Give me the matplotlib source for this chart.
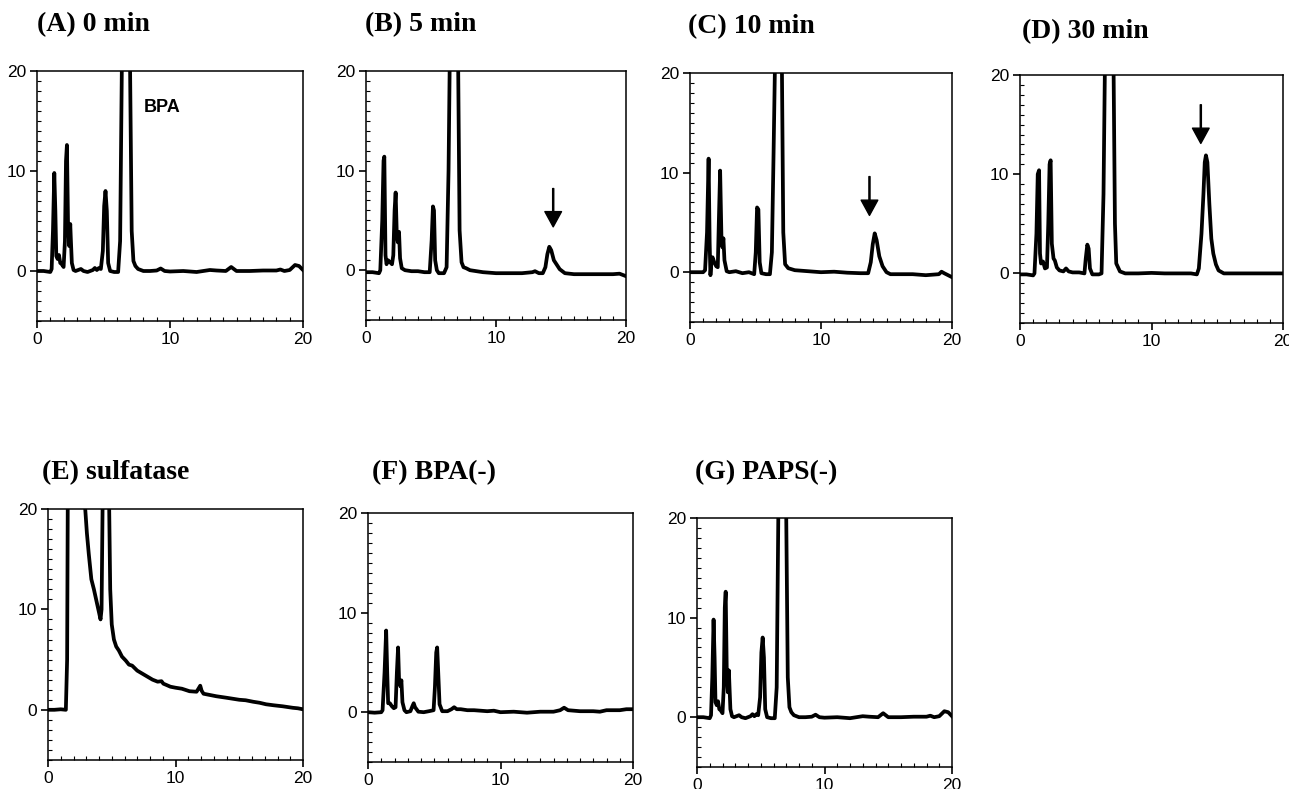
import numpy as np
import matplotlib
matplotlib.use("Agg")
import matplotlib.pyplot as plt
from matplotlib.ticker import MultipleLocator

# retention time (min) / detector signal
a_t = [0, 0.5, 1.0, 1.1, 1.2, 1.3, 1.38, 1.45, 1.55, 1.65, 1.75, 1.85, 2.0, 2.1, 2.18, 2.25, 2.33, 2.42,
       2.5, 2.55, 2.62, 2.75, 2.9, 3.3, 3.5, 3.8, 4.2, 4.35, 4.5, 4.65, 4.8, 4.95, 5.05, 5.15, 5.25, 5.35,
       5.5, 5.8, 6.1, 6.25, 6.38, 6.5, 6.9, 7.0, 7.12, 7.25, 7.4, 7.6, 8.0, 8.5, 9.0, 9.3, 9.6, 10.0,
       11.0, 12.0, 13.0, 13.5, 14.2, 14.6, 15.0, 16.0, 17.0, 18.0, 18.3, 18.6, 19.0, 19.4, 19.7, 20.0]
a_v = [0, 0, -0.1, 0.2, 4, 9.8, 6, 1.5, 1.2, 1.6, 0.8, 0.7, 0.4, 3, 11, 12.6, 5, 2.5,
       4.7, 3, 0.8, 0.1, 0, 0.2, 0, -0.1, 0.1, 0.3, 0.1, 0.3, 0.2, 2, 6.5, 8.0, 6, 0.8,
       0, -0.1, -0.1, 3, 20.5, 30, 30, 20, 4, 1.0, 0.5, 0.2, 0, 0, 0.05, 0.25, 0, -0.05,
       0, -0.1, 0.1, 0.05, 0, 0.4, 0, 0, 0.05, 0.05, 0.15, 0, 0.1, 0.6, 0.5, 0.1]

b_t = [0, 0.5, 1.0, 1.1, 1.25, 1.35, 1.41, 1.5, 1.58, 1.7, 1.85, 2.0, 2.1, 2.2, 2.28, 2.37, 2.45, 2.54,
       2.62, 2.75, 3.0, 3.5, 4.0, 4.5, 4.9, 5.05, 5.15, 5.23, 5.32, 5.45, 5.6, 6.0, 6.2, 6.35, 6.45, 6.6,
       6.95, 7.08, 7.2, 7.35, 7.5, 7.7, 8.0, 9.0, 10.0, 11.0, 12.0, 12.8, 13.0, 13.3, 13.6, 13.8, 13.95,
       14.1, 14.25, 14.45, 14.65, 14.9, 15.3, 16.0, 17.0, 18.0, 19.0, 19.5, 19.8, 20.0]
b_v = [-0.2, -0.2, -0.3, 0.0, 5, 11.0, 11.4, 1.5, 0.6, 1.0, 0.8, 0.6, 1.5, 6, 7.8, 3.5, 2.8, 3.85,
       1.2, 0.2, 0.0, -0.1, -0.1, -0.2, -0.2, 3, 6.4, 6.0, 1.0, 0, -0.3, -0.3, 0.3, 10, 22, 30,
       30, 22, 4, 0.8, 0.3, 0.2, 0.0, -0.2, -0.3, -0.3, -0.3, -0.2, -0.1, -0.3, -0.3, 0.3, 1.6,
       2.35, 2.0, 1.0, 0.6, 0.1, -0.3, -0.4, -0.4, -0.4, -0.4, -0.35, -0.5, -0.6]

c_t = [0, 0.5, 1.0, 1.15, 1.3, 1.42, 1.5, 1.56, 1.65, 1.72, 1.85, 2.0, 2.12, 2.2, 2.3, 2.4, 2.47, 2.55,
       2.63, 2.8, 3.0, 3.5, 4.0, 4.5, 4.9, 5.02, 5.12, 5.22, 5.32, 5.45, 5.8, 6.1, 6.25, 6.38, 6.5, 6.6,
       6.95, 7.02, 7.12, 7.26, 7.5, 8.0, 9.0, 10.0, 11.0, 12.0, 13.0, 13.6, 13.8, 13.95, 14.1, 14.25,
       14.45, 14.7, 15.0, 15.3, 16.0, 17.0, 18.0, 19.0, 19.2, 19.4, 19.7, 20.0]
c_v = [0, 0, 0, 0.2, 4, 11.4, 3, -0.3, 1.2, 1.5, 1.0, 0.6, 0.5, 5, 10.2, 3.5, 2.5, 3.4,
       1.2, 0.1, 0, 0.1, -0.1, 0, -0.2, 2, 6.5, 6.3, 1, -0.1, -0.2, -0.2, 2, 12, 22, 30,
       30, 20, 4, 0.8, 0.4, 0.2, 0.1, 0, 0.05, -0.05, -0.1, -0.1, 1.0, 2.8, 3.9, 3.2,
       1.6, 0.6, 0.0, -0.2, -0.2, -0.2, -0.3, -0.2, 0.05, -0.1, -0.3, -0.5]

d_t = [0, 0.5, 1.0, 1.1, 1.25, 1.35, 1.45, 1.52, 1.6, 1.75, 1.9, 2.05, 2.15, 2.25, 2.33, 2.42, 2.55,
       2.65, 2.8, 3.0, 3.3, 3.5, 3.7, 4.0, 4.5, 4.9, 5.0, 5.12, 5.22, 5.32, 5.5, 6.0, 6.2, 6.35, 6.45,
       6.6, 7.0, 7.12, 7.22, 7.32, 7.6, 8.0, 9.0, 10.0, 11.0, 12.0, 13.0, 13.45, 13.6, 13.8, 13.95,
       14.05, 14.14, 14.25, 14.4, 14.55, 14.7, 14.9, 15.1, 15.5, 16.0, 17.0, 18.0, 19.0, 20.0]
d_v = [-0.1, -0.1, -0.2, 0, 4, 10.0, 10.4, 2, 1.0, 1.2, 0.5, 0.6, 5, 11.0, 11.4, 3, 1.5,
       1.3, 0.6, 0.3, 0.2, 0.5, 0.2, 0.1, 0.1, 0.0, 1.5, 2.9, 2.5, 0.5, -0.1, -0.1, 0, 8, 20,
       30, 30, 20, 5, 1.0, 0.2, 0, 0, 0.05, 0, 0, 0, -0.1, 0.5, 4, 8,
       11.2, 11.9, 11.2, 7, 3.5, 2.0, 0.9, 0.3, 0, 0, 0, 0, 0, 0]

e_t = [0, 0.5, 1.0, 1.4, 1.5, 1.58, 2.8, 2.92, 3.05, 3.2, 3.4, 3.6, 3.86, 4.0, 4.12, 4.2, 4.28, 4.35,
       4.7, 4.8, 4.88, 5.0, 5.17, 5.35, 5.56, 5.8, 6.1, 6.35, 6.6, 7.0, 7.4, 7.8, 8.2, 8.6, 8.9, 9.05,
       9.24, 9.6, 10.0, 10.5, 11.1, 11.65, 11.8, 11.94, 12.05, 12.2, 12.6, 13.2, 14.0, 14.5, 15.0, 15.5,
       16.1, 16.6, 17.1, 17.7, 18.4, 19.2, 19.6, 20.0]
e_v = [0, 0, 0.05, 0, 5, 30, 30, 20, 17.6, 15.5, 13, 12, 10.5, 9.7, 9.0, 10, 20, 30,
       30, 20, 12, 8.5, 7, 6.3, 5.9, 5.3, 4.9, 4.5, 4.4, 3.9, 3.6, 3.3, 3.0, 2.8, 2.85, 2.6,
       2.5, 2.3, 2.2, 2.1, 1.85, 1.8, 2.1, 2.4, 1.9, 1.6, 1.5, 1.35, 1.2, 1.1, 1.0, 0.95,
       0.8, 0.7, 0.55, 0.45, 0.35, 0.2, 0.15, 0.05]

f_t = [0, 0.5, 1.0, 1.1, 1.25, 1.37, 1.45, 1.52, 1.65, 1.8, 1.95, 2.08, 2.18, 2.27, 2.35, 2.45, 2.52,
       2.6, 2.75, 2.9, 3.2, 3.35, 3.45, 3.55, 3.8, 4.2, 4.6, 4.95, 5.05, 5.15, 5.22, 5.3, 5.4, 5.6, 6.0,
       6.3, 6.5, 6.7, 7.0, 7.5, 8.0, 9.0, 9.5, 10.0, 11.0, 12.0, 13.0, 14.0, 14.5, 14.8, 15.1, 16.0,
       17.0, 17.5, 18.0, 19.0, 19.5, 20.0]
f_v = [0, -0.05, 0, 0.2, 4, 8.2, 4, 0.9, 0.9, 0.6, 0.4, 0.5, 4, 6.5, 3, 2.6, 3.2,
       1.0, 0.2, 0, 0.1, 0.6, 0.9, 0.5, 0.05, 0, 0.1, 0.2, 2.5, 6.0, 6.5, 4, 0.8, 0.1, 0.1,
       0.3, 0.5, 0.3, 0.3, 0.2, 0.2, 0.1, 0.15, 0, 0.05, -0.05, 0.05, 0.05, 0.2, 0.45, 0.2, 0.1,
       0.1, 0.05, 0.2, 0.2, 0.3, 0.3]

# PAPS(-) trace is indistinguishable from the 0 min trace
g_t = a_t
g_v = a_v

titles = ["(A) 0 min", "(B) 5 min", "(C) 10 min", "(D) 30 min",
          "(E) sulfatase", "(F) BPA(-)", "(G) PAPS(-)"]
traces = [(a_t, a_v), (b_t, b_v), (c_t, c_v), (d_t, d_v), (e_t, e_v), (f_t, f_v), (g_t, g_v)]

# product peak arrows: x, stem top, tip
arrow_x = {1: 14.4, 2: 13.7, 3: 13.75}
arrow_top = {1: 8.2, 2: 9.6, 3: 17.0}
arrow_tip = {1: 4.35, 2: 5.7, 3: 13.1}

W, H = 1289, 789
fig = plt.figure(figsize=(W / 100, H / 100), dpi=100)

# axes boxes in pixels: left, right, top, bottom
boxes = [(37, 303, 71, 321), (366, 626, 71, 320), (690, 952, 73, 322), (1020, 1283, 75, 323),
         (48, 303, 509, 760), (368, 633, 513, 762), (697, 952, 518, 767)]
title_pos = [(37, 25), (365, 25), (688, 27), (1022, 32), (42, 473), (372, 473), (695, 473)]

for i, ((t, v), box) in enumerate(zip(traces, boxes)):
    assert len(t) == len(v), titles[i]
    l, r, top, bot = box
    ax = fig.add_axes([l / W, 1 - bot / H, (r - l) / W, (bot - top) / H])
    ax.plot(t, v, color="black", lw=2.7, solid_joinstyle="round")
    ax.set_xlim(0, 20)
    ax.set_ylim(-5, 20)
    ax.set_xticks([0, 10, 20])
    ax.set_yticks([0, 10, 20])
    ax.xaxis.set_minor_locator(MultipleLocator(1))
    ax.yaxis.set_minor_locator(MultipleLocator(1))
    ax.tick_params(which="major", direction="out", length=5, width=1.2, pad=3,
                   labelsize=12.5, labelfontfamily="Liberation Sans")
    ax.tick_params(which="minor", direction="in", length=3, width=0.8)
    for s in ax.spines.values():
        s.set_linewidth(1.1)
    fig.text(title_pos[i][0] / W, 1 - title_pos[i][1] / H, titles[i], ha="left", va="center",
             fontsize=20, fontweight="bold", family="Liberation Serif")
    if i in arrow_x:
        ax.annotate("", xy=(arrow_x[i], arrow_tip[i]), xytext=(arrow_x[i], arrow_top[i]),
                    arrowprops=dict(facecolor="black", edgecolor="black", width=0.8,
                                    headwidth=12, headlength=11, shrink=0))
    if i == 0:
        ax.text(9.4, 16.3, "BPA", ha="center", va="center", fontsize=13,
                fontweight="bold", family="Liberation Sans")

fig.savefig("out.png", dpi=100)
